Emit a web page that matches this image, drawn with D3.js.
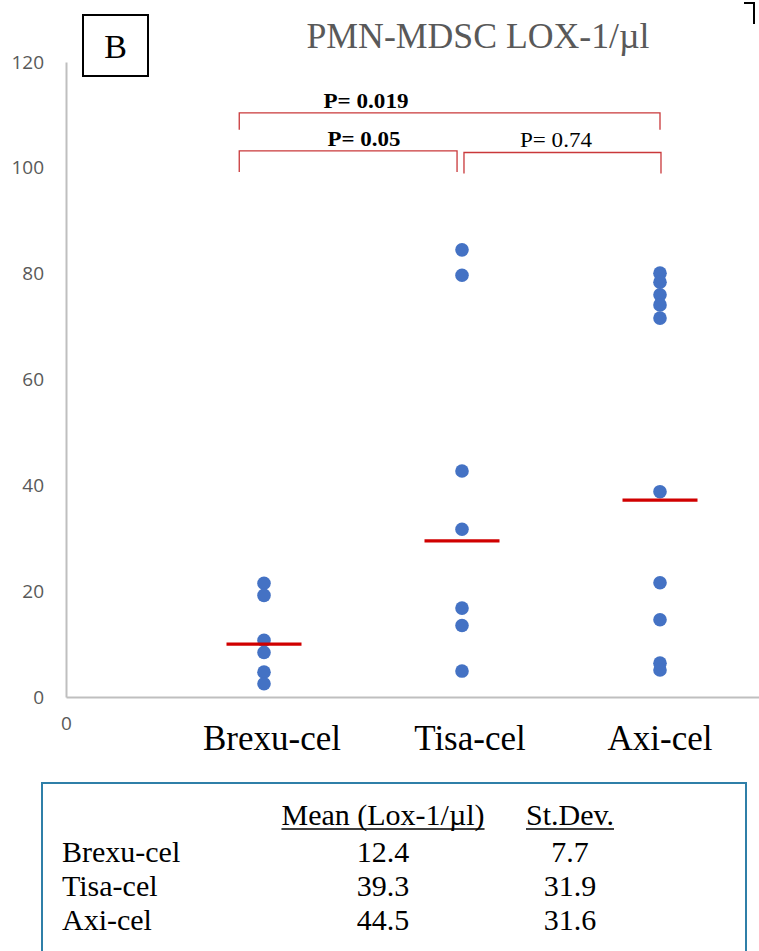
<!DOCTYPE html>
<html>
<head>
<meta charset="utf-8">
<script src="https://cdn.jsdelivr.net/npm/d3@7"></script>
<style>
  body { margin: 0; background: #fff; }
  svg { display: block; }
</style>
</head>
<body>
<script>
// data
const categories = ["Brexu-cel", "Tisa-cel", "Axi-cel"];
const brexuValues = [21.5, 19.2, 10.7, 8.4, 4.7, 2.5];
const tisaValues = [84.5, 79.7, 42.7, 31.7, 16.8, 13.5, 4.9];
const axiValues = [80.1, 78.4, 76.0, 74.1, 71.6, 38.8, 21.6, 14.6, 6.4, 5.1];
const meanLines = [10.0, 29.5, 37.2];
const yTicks = [0, 20, 40, 60, 80, 100, 120];

const pLabels = ["P= 0.019", "P= 0.05", "P= 0.74"];
const pBold = [true, true, false];
const bracketFrom = [0.875, 0.875, 2.01];
const bracketTo = [3.0, 1.975, 3.005];
const bracketLevel = [110.4, 103.2, 102.9];

const tableHeader = ["Mean (Lox-1/µl)", "St.Dev."];
const tableMean = [12.4, 39.3, 44.5];
const tableSd = [7.7, 31.9, 31.6];

const W = 759, H = 951;
const svg = d3.select("body").append("svg").attr("width", W).attr("height", H);
svg.append("rect").attr("width", W).attr("height", H).attr("fill", "#fff");

const x = d3.scaleLinear().domain([0, 3.5]).range([66, 759]);
const y = d3.scaleLinear().domain([0, 120]).range([697, 62]);

const serif = "'Liberation Serif', 'Times New Roman', serif";
const sans = "'Open Sans', 'Liberation Sans', sans-serif";

// axes
const yAxis = svg.append("g")
  .attr("transform", `translate(${x(0)},0)`)
  .call(d3.axisLeft(y).tickValues(yTicks).tickSize(0).tickPadding(22));
yAxis.select(".domain").attr("stroke", "#bfbfbf").attr("stroke-width", 2);
yAxis.selectAll("text").attr("font-family", sans).attr("font-size", 19).attr("fill", "#595959");

const xAxis = svg.append("g")
  .attr("transform", `translate(0,${y(0)})`)
  .call(d3.axisBottom(x).tickValues([0]).tickFormat(d3.format("d")).tickSize(0).tickPadding(20));
xAxis.select(".domain").attr("stroke", "#bfbfbf").attr("stroke-width", 2);
xAxis.selectAll("text").attr("font-family", sans).attr("font-size", 19).attr("fill", "#595959");

// points
const series = [brexuValues, tisaValues, axiValues];
series.forEach((vals, i) => {
  svg.append("g").selectAll("circle").data(vals).enter()
    .append("circle")
    .attr("cx", x(i + 1))
    .attr("cy", d => y(d))
    .attr("r", 6.8)
    .attr("fill", "#4472c4");
});

// mean bars
svg.append("g").selectAll("line").data(meanLines).enter()
  .append("line")
  .attr("x1", (d, i) => x(i + 1) - 37.5)
  .attr("x2", (d, i) => x(i + 1) + 37.5)
  .attr("y1", d => y(d))
  .attr("y2", d => y(d))
  .attr("stroke", "#d00000")
  .attr("stroke-width", 3.2);

// category labels
svg.append("g").selectAll("text").data(categories).enter()
  .append("text")
  .attr("x", (d, i) => x(i + 1) + (i < 2 ? 8 : 0))
  .attr("y", 750)
  .attr("text-anchor", "middle")
  .attr("font-family", serif)
  .attr("font-size", 35)
  .attr("fill", "#000")
  .text(d => d);

// significance brackets
const br = svg.append("g");
const labelX = [366, 364, 556];
const labelW = [85, 73, 72];
pLabels.forEach((lab, i) => {
  const x1 = x(bracketFrom[i]), x2 = x(bracketTo[i]), yy = y(bracketLevel[i]);
  const drop = i === 0 ? 17 : 21;
  br.append("path")
    .attr("d", `M${x1},${yy + drop}V${yy}H${x2}V${yy + drop}`)
    .attr("fill", "none")
    .attr("stroke", "#c9383a")
    .attr("stroke-width", 1.3);
  br.append("text")
    .attr("x", labelX[i])
    .attr("y", yy - 5)
    .attr("text-anchor", "middle")
    .attr("font-family", serif)
    .attr("font-size", 22)
    .attr("font-weight", pBold[i] ? "bold" : "normal")
    .attr("fill", "#000")
    .attr("textLength", labelW[i])
    .attr("lengthAdjust", "spacingAndGlyphs")
    .text(lab);
});

// title and panel letter
svg.append("text")
  .attr("x", 478).attr("y", 48)
  .attr("text-anchor", "middle")
  .attr("font-family", serif)
  .attr("font-size", 35)
  .attr("fill", "#595959")
  .attr("textLength", 343)
  .attr("lengthAdjust", "spacingAndGlyphs")
  .text("PMN-MDSC LOX-1/µl");

svg.append("rect")
  .attr("x", 83).attr("y", 15).attr("width", 65).attr("height", 61)
  .attr("fill", "#fff").attr("stroke", "#000").attr("stroke-width", 2);
svg.append("text")
  .attr("x", 115.5).attr("y", 58)
  .attr("text-anchor", "middle")
  .attr("font-family", serif)
  .attr("font-size", 34)
  .attr("fill", "#000")
  .text("B");

// corner mark
svg.append("path")
  .attr("d", "M744,3H754V24")
  .attr("fill", "none").attr("stroke", "#000").attr("stroke-width", 2);

// summary table
const tbl = svg.append("g");
tbl.append("rect")
  .attr("x", 42).attr("y", 783).attr("width", 704).attr("height", 190)
  .attr("fill", "#fff").attr("stroke", "#2f7fa8").attr("stroke-width", 2);

const colX = [383, 570];
tableHeader.forEach((h, i) => {
  const t = tbl.append("text")
    .attr("x", colX[i]).attr("y", 825)
    .attr("text-anchor", "middle")
    .attr("font-family", serif).attr("font-size", 30).attr("fill", "#000")
    .text(h);
  const bb = t.node().getBBox();
  tbl.append("line")
    .attr("x1", bb.x).attr("x2", bb.x + bb.width)
    .attr("y1", 829).attr("y2", 829)
    .attr("stroke", "#000").attr("stroke-width", 1.5);
});

categories.forEach((c, i) => {
  const by = 862 + i * 34;
  tbl.append("text").attr("x", 62).attr("y", by)
    .attr("font-family", serif).attr("font-size", 30).attr("fill", "#000")
    .text(c);
  tbl.append("text").attr("x", colX[0]).attr("y", by).attr("text-anchor", "middle")
    .attr("font-family", serif).attr("font-size", 30).attr("fill", "#000")
    .text(tableMean[i].toFixed(1));
  tbl.append("text").attr("x", colX[1]).attr("y", by).attr("text-anchor", "middle")
    .attr("font-family", serif).attr("font-size", 30).attr("fill", "#000")
    .text(tableSd[i].toFixed(1));
});
</script>
</body>
</html>
